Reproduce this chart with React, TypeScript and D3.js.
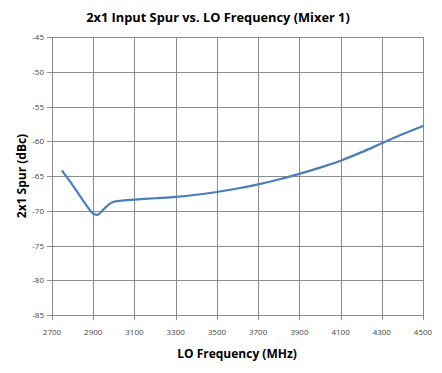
import React from 'react';
import * as d3 from 'd3';

// LO frequency (MHz) vs 2x1 spur (dBc)
const loFreq = [2750, 2800, 2850, 2900, 2920, 2950, 2980, 3000, 3050, 3100, 3200, 3300, 3400, 3500, 3600, 3700, 3800, 3900, 4000, 4100, 4200, 4300, 4400, 4500];
const spur = [-64.3, -66.3, -68.5, -70.4, -70.6, -69.8, -69.0, -68.7, -68.5, -68.4, -68.2, -68.0, -67.7, -67.3, -66.8, -66.2, -65.5, -64.7, -63.8, -62.8, -61.6, -60.3, -59.0, -57.8];
const xTicks = [2700, 2900, 3100, 3300, 3500, 3700, 3900, 4100, 4300, 4500];
const yTicks = [-45, -50, -55, -60, -65, -70, -75, -80, -85];

const W = 442, H = 373;
const m = { left: 52, right: 19, top: 37, bottom: 58 };

export default function App() {
  const x = d3.scaleLinear().domain([2700, 4500]).range([m.left, W - m.right]);
  const y = d3.scaleLinear().domain([-85, -45]).range([H - m.bottom, m.top]);
  const pts = loFreq.map((f, i) => [f, spur[i]] as [number, number]);
  const line = d3.line<[number, number]>()
    .x(d => x(d[0]))
    .y(d => y(d[1]))
    .curve(d3.curveMonotoneX);

  const font = "'Open Sans', 'DejaVu Sans', sans-serif";
  const grid = '#8c8c8c';

  return (
    <svg width={W} height={H} style={{ position: 'absolute', left: 0, top: 0, background: '#fff' }}>
      <text x={218} y={22} textAnchor="middle" fontFamily={font} fontWeight="bold" fontSize={12.8}>
        2x1 Input Spur vs. LO Frequency (Mixer 1)
      </text>
      {/* gridlines */}
      {xTicks.map(t => (
        <line key={'gx' + t} x1={Math.round(x(t)) + 0.5} x2={Math.round(x(t)) + 0.5} y1={m.top} y2={H - m.bottom + 5} stroke={grid} strokeWidth={1} />
      ))}
      {yTicks.map(t => (
        <line key={'gy' + t} x1={m.left - 5} x2={W - m.right} y1={Math.round(y(t)) + 0.5} y2={Math.round(y(t)) + 0.5} stroke={grid} strokeWidth={1} />
      ))}
      {yTicks.map(t => (
        <text key={'ty' + t} x={m.left - 8} y={y(t) + 3} textAnchor="end" fontFamily={font} fontSize={8} fill="#444">
          {t}
        </text>
      ))}
      {xTicks.map(t => (
        <text key={'tx' + t} x={x(t)} y={H - m.bottom + 20} textAnchor="middle" fontFamily={font} fontSize={8} fill="#444">
          {t}
        </text>
      ))}
      <path d={line(pts) || ''} fill="none" stroke="#4a7ebb" strokeWidth={2.2} strokeLinejoin="round" strokeLinecap="round" />
      <text x={237} y={358} textAnchor="middle" fontFamily={font} fontWeight="bold" fontSize={12}>
        LO Frequency (MHz)
      </text>
      <text transform={`translate(26,${(m.top + H - m.bottom) / 2}) rotate(-90)`} textAnchor="middle" fontFamily={font} fontWeight="bold" fontSize={12}>
        2x1 Spur (dBc)
      </text>
    </svg>
  );
}
